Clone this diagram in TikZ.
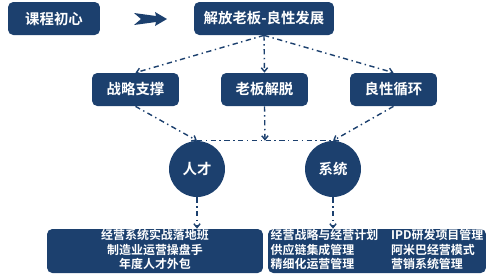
\documentclass[tikz,border=0pt]{standalone}
\usepackage{fontspec}
\setmainfont{Noto Sans CJK SC}[BoldFont={Noto Sans CJK SC Bold}]
\usetikzlibrary{arrows.meta, calc}
\definecolor{marino}{HTML}{1C406E}
\tikzset{
  % Cajas de título (fondo azul, texto blanco)
  caja/.style     = {draw=none, fill=marino, rounded corners=3pt, text=white,
                     font=\bfseries\fontsize{8.2}{9}\selectfont,
                     minimum width=1.74cm, minimum height=0.66cm, inner sep=0pt},
  % Círculos de los dos pilares
  pilar/.style    = {circle, fill=marino, text=white, inner sep=0pt,
                     minimum size=1.12cm, font=\bfseries\fontsize{8.2}{9}\selectfont},
  % Cajas inferiores con la lista de cursos
  lista/.style    = {fill=marino, rounded corners=3pt, text=white, inner sep=0pt,
                     minimum width=4.32cm, minimum height=0.88cm,
                     font=\bfseries\fontsize{6.8}{7.5}\selectfont},
  % Conectores de punto y raya
  enlace/.style   = {line width=0.8pt, color=marino, dash dot,
                     -{Straight Barb[length=2.2pt, width=3.6pt]}},
  union/.style    = {line width=0.8pt, color=marino, dash dot},
}

\begin{document}
\begin{tikzpicture}[x=0.02cm, y=-0.02cm]
  \useasboundingbox (0,0) rectangle (500,275);

  % fila superior
  \node[caja, minimum width=1.84cm] (origen) at (54,18.5) {课程初心};
  \node[caja, minimum width=2.8cm]  (meta)   at (264,18.5) {解放老板-良性发展};
  \fill[marino] (134,13) -- (156,16) -- (155,12) -- (167,19) -- (155,26)
    -- (156,22) -- (134,25) -- (141,19) -- cycle;

  % fila intermedia
  \node[caja] (estrategia) at (135.5,89.5) {战略支撑};
  \node[caja] (liberar)    at (264.5,89.5) {老板解脱};
  \node[caja] (ciclo)      at (393.5,89.5) {良性循环};

  % pilares
  \node[pilar] (talento) at (197,169) {人才};
  \node[pilar] (sistema) at (333,169) {系统};
  \coordinate (centro) at ($(talento.north)!0.5!(sistema.north)$);

  % cajas inferiores
  \node[lista] (cursosA) at (155,251) {%
    \begin{tabular}{@{}c@{}}
      经营系统实战落地班\\
      制造业运营操盘手\\
      年度人才外包
    \end{tabular}};
  \node[lista, minimum width=4.36cm] (cursosB) at (377,251) {%
    \begin{tabular}{@{}l@{\hspace{0.26cm}}l@{}}
      经营战略与经营计划 & IPD研发项目管理\\
      供应链集成管理     & 阿米巴经营模式\\
      精细化运营管理     & 营销系统管理
    \end{tabular}};

  % conectores
  \draw[enlace] (meta.south) -- (estrategia.north);
  \draw[enlace] (meta.south) -- (liberar.north);
  \draw[enlace] (meta.south) -- (ciclo.north);
  \draw[union]  (talento.north) -- (sistema.north);
  \draw[enlace] (estrategia.south) -- (talento.north);
  \draw[enlace] (liberar.south) -- (centro);
  \draw[enlace] (ciclo.south) -- (sistema.north);
  \draw[enlace] (talento.south) -- (talento.south |- cursosA.north);
  \draw[enlace] (sistema.south) -- (sistema.south |- cursosB.north);

\end{tikzpicture}
\end{document}
